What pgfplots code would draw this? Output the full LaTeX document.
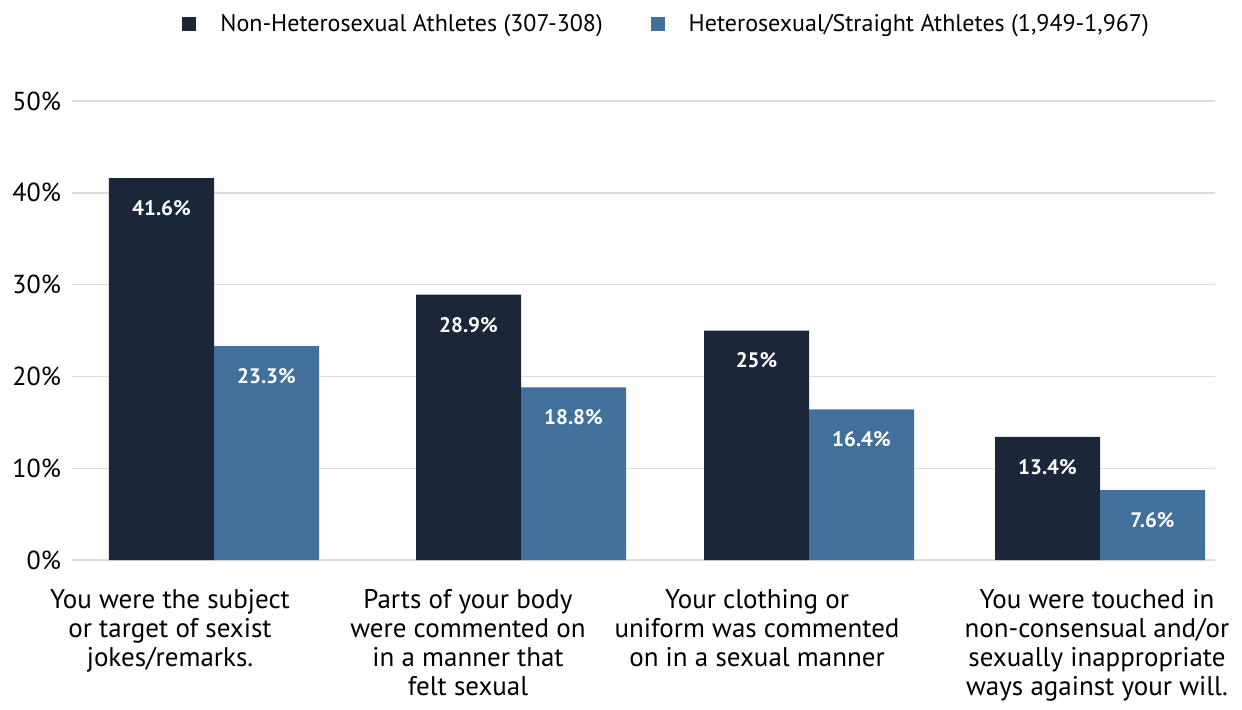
\documentclass[border=0pt]{standalone}
\usepackage{pgfplots}
\pgfplotsset{compat=1.18}
\usepackage{fontspec}
\setmainfont{PT Sans}
\definecolor{navy}{HTML}{1B2638}
\definecolor{steel}{HTML}{41709C}
\definecolor{gridgray}{HTML}{DDDDDD}
\begin{document}
\begin{tikzpicture}
\useasboundingbox (-36pt,-74.5pt) rectangle (585pt,280pt);
\begin{axis}[
    scale only axis,
    width=571.5pt, height=229.5pt,
    xmin=0, xmax=1143,
    ymin=0, ymax=50,
    ybar=0pt, bar width=52.5pt,
    axis line style={draw=none},
    major tick length=0pt,
    ytick={0,10,20,30,40,50},
    yticklabel={\pgfmathprintnumber{\tick}\%},
    yticklabel style={font=\fontsize{13}{14}\selectfont, xshift=-2pt},
    /pgf/number format/assume math mode=true,
    ymajorgrids,
    grid style={gridgray, line width=0.7pt},
    xtick={98,396,685,1025},
    xticklabels={
        {You were the subject\\or target of sexist\\jokes/remarks.},
        {Parts of your body\\were commented on\\in a manner that\\felt sexual},
        {Your clothing or\\uniform was commented\\on in a sexual manner},
        {You were touched in\\non-consensual and/or\\sexually inappropriate\\ways against your will.}},
    xticklabel style={align=center, anchor=north, yshift=-11pt,
        font=\fontsize{13.5}{14.5}\selectfont},
    nodes near coords={\pgfmathprintnumber{\pgfplotspointmeta}\%},
    every node near coord/.append style={anchor=center, yshift=-15pt,
        text=white, font=\bfseries\fontsize{10.5}{12}\selectfont},
    legend style={draw=none, at={(0.091,1.208)}, anchor=north west,
        legend columns=2, font=\fontsize{12}{14}\selectfont,
        /tikz/every even column/.append style={column sep=22pt},
        /tikz/every odd column/.append style={column sep=10pt}},
    legend image code/.code={\fill[#1] (0pt,-3.5pt) rectangle (7pt,3.5pt);},
]
\addplot[fill=navy, draw=none] coordinates {(142,41.6) (449,28.9) (737,25) (1028,13.4)};
\addplot[fill=steel, draw=none] coordinates {(142,23.3) (449,18.8) (737,16.4) (1028,7.6)};
\legend{{Non-Heterosexual Athletes (307-308)}, {Heterosexual/Straight Athletes (1,949-1,967)}}
\end{axis}
\end{tikzpicture}
\end{document}
